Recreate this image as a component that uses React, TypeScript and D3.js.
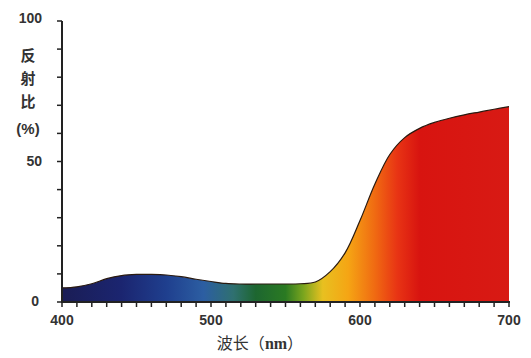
import React from "react";
import * as d3 from "d3";

const wavelengths = [400, 410, 420, 430, 440, 450, 460, 470, 480, 490, 500, 510, 520, 530, 540, 550, 560, 570, 580, 590, 600, 610, 620, 630, 640, 650, 660, 670, 680, 690, 700];
const reflectance = [5.0, 5.4, 6.5, 8.3, 9.4, 9.8, 9.8, 9.6, 9.0, 8.1, 7.3, 6.6, 6.4, 6.4, 6.4, 6.4, 6.5, 7.1, 10.8, 17.5, 29, 42, 52.5, 58.5, 61.8, 63.9, 65.4, 66.6, 67.6, 68.6, 69.5];
const xTickLabels = [400, 500, 600, 700];
const yTickLabels = [0, 50, 100];
const yLabelChars = ["反", "射", "比", "(%)"];
const gradientStops: [number, string][] = [
  [400, "#1a1d55"],
  [440, "#1b2570"],
  [470, "#1f3f8e"],
  [495, "#2c5ea2"],
  [515, "#2f7070"],
  [530, "#1d6630"],
  [550, "#2a7a22"],
  [562, "#7aa51e"],
  [575, "#e8c020"],
  [592, "#f5a514"],
  [610, "#f06a12"],
  [625, "#e83414"],
  [640, "#d81410"],
  [700, "#d81a14"],
];

export default function App() {
  const W = 531, H = 358;
  const x = d3.scaleLinear().domain([400, 700]).range([62, 509]);
  const y = d3.scaleLinear().domain([0, 100]).range([302, 21]);
  const data = wavelengths.map((w, i) => ({ w, r: reflectance[i] }));
  const curve = d3.curveCatmullRom.alpha(0.5);
  const area = d3.area<{ w: number; r: number }>().x(d => x(d.w)).y0(y(0)).y1(d => y(d.r)).curve(curve);
  const line = d3.line<{ w: number; r: number }>().x(d => x(d.w)).y(d => y(d.r)).curve(curve);
  const xMinor = d3.range(400, 701, 10);
  const yMinor = d3.range(0, 101, 10);
  const font = "'Liberation Sans', Arial, sans-serif";
  return (
    <svg width={W} height={H} style={{ position: "absolute", left: 0, top: 0, background: "#fff" }}>
      <defs>
        <linearGradient id="spec" gradientUnits="userSpaceOnUse" x1={x(400)} x2={x(700)} y1={0} y2={0}>
          {gradientStops.map(([w, c], i) => (
            <stop key={i} offset={(w - 400) / 300} stopColor={c} />
          ))}
        </linearGradient>
      </defs>
      <path d={area(data) || ""} fill="url(#spec)" />
      <path d={line(data) || ""} fill="none" stroke="#2a1a10" strokeWidth={1.2} />
      {/* axes */}
      <line x1={62} x2={62} y1={y(100)} y2={y(0) + 1} stroke="#222" strokeWidth={2} />
      <line x1={61} x2={x(700) + 1} y1={y(0)} y2={y(0)} stroke="#222" strokeWidth={2} />
      {yMinor.map(v => (
        <line key={"yt" + v} x1={57} x2={62} y1={y(v)} y2={y(v)} stroke="#222" strokeWidth={1.5} />
      ))}
      {xMinor.map(v => (
        <line key={"xt" + v} x1={x(v)} x2={x(v)} y1={y(0)} y2={y(0) + 5} stroke="#222" strokeWidth={1.5} />
      ))}
      {yTickLabels.map(v => (
        <text key={"yl" + v} x={v === 0 ? 39 : 42} y={y(v) + (v === 100 ? 2 : 4)} textAnchor="end" fontFamily={font} fontWeight="bold" fontSize={14} fill="#333">{v}</text>
      ))}
      {xTickLabels.map(v => (
        <text key={"xl" + v} x={x(v)} y={325} textAnchor="middle" fontFamily={font} fontWeight="bold" fontSize={14} fill="#333">{v}</text>
      ))}
      {yLabelChars.map((c, i) => (
        <text key={"c" + i} x={28} y={[61, 84, 107, 134][i]} textAnchor="middle" fontFamily={i < 3 ? "'Noto Sans CJK SC', sans-serif" : font} fontWeight="bold" fontSize={15} fill="#333">{c}</text>
      ))}
      <text x={260} y={349} textAnchor="middle" fontFamily="'Noto Sans CJK SC', sans-serif" fontSize={16} fill="#333">
        波长（<tspan fontFamily="'Liberation Serif', serif" fontWeight="bold">nm</tspan>）
      </text>
    </svg>
  );
}
